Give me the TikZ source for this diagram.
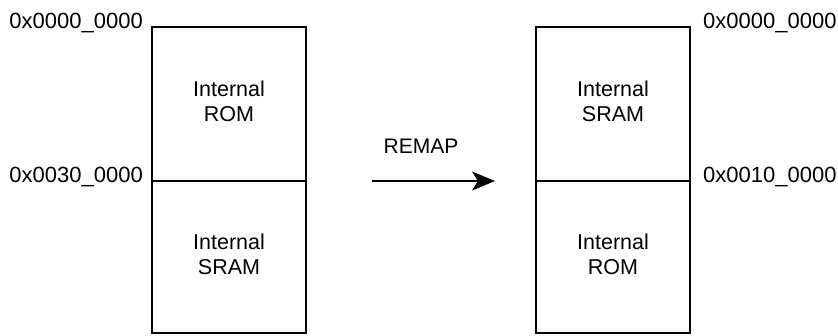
\documentclass[tikz,border=0pt]{standalone}
\usepackage{fontspec}
\setmainfont{Liberation Sans}
\usepackage{tikz}
\usetikzlibrary{arrows.meta,positioning}

\begin{document}
\begin{tikzpicture}[
    x=1pt, y=1pt,
    region/.style={rectangle, draw, line width=2pt, outer sep=0pt, inner sep=0pt, minimum width=154pt, text width=140pt, text depth=31pt, align=center, font=\fontsize{21.5}{25}\selectfont},
    addr/.style={inner sep=0pt, font=\fontsize{22}{26}\selectfont},
    arrow/.style={-{Stealth[length=23pt,width=19pt,inset=6pt]}, line width=2pt}
]
\useasboundingbox (0,0) rectangle (838,335);

% Before remap
\node[region, minimum height=154pt] (romL) at (229,231) {Internal\\ROM};
\node[region, minimum height=152pt, below=0pt of romL] (sramL) {Internal\\SRAM};

% After remap
\node[region, minimum height=154pt, right=230pt of romL] (sramR) {Internal\\SRAM};
\node[region, minimum height=152pt, below=0pt of sramR] (romR) {Internal\\ROM};

% Addresses
\node[addr, anchor=base east] (topaddrL) at ([xshift=-9pt,yshift=-2pt]romL.north west) {0x0000\_0000};
\node[addr, anchor=base east] (midaddrL) at ([xshift=-9pt,yshift=-2pt]romL.south west) {0x0030\_0000};
\node[addr, anchor=base west] (topaddrR) at ([xshift=13pt,yshift=-2pt]sramR.north east) {0x0000\_0000};
\node[addr, anchor=base west] (midaddrR) at ([xshift=13pt,yshift=-2pt]sramR.south east) {0x0010\_0000};

% Arrow
\draw[arrow] ([xshift=66pt]romL.south east) -- ([xshift=-41pt]sramR.south west)
    node[midway, font=\fontsize{21}{25}\selectfont, xshift=-12.5pt, yshift=35pt] (remap) {REMAP};

\end{tikzpicture}
\end{document}
